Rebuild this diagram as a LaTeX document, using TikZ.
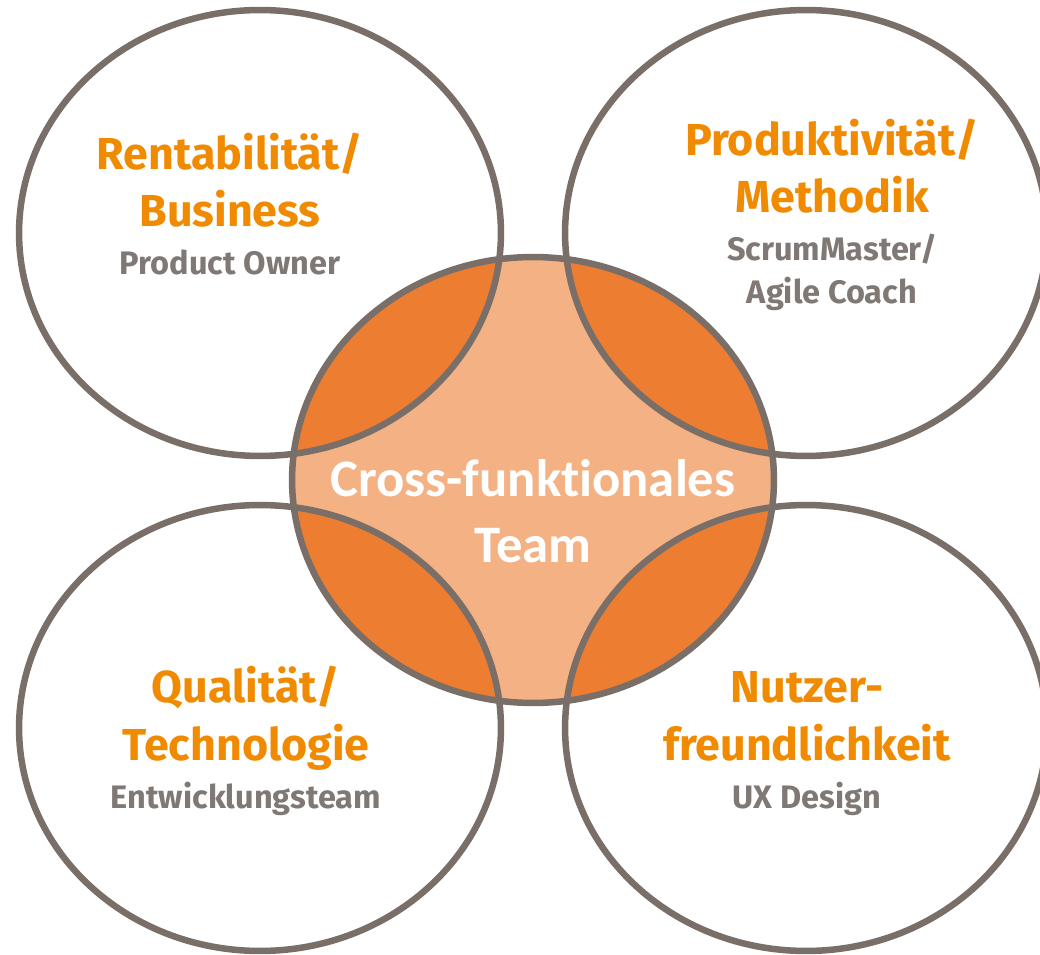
\documentclass[tikz,border=0pt]{standalone}
\usepackage{fontspec}
\newfontfamily\headfont{Fira Sans}
\newfontfamily\teamfont{Carlito}[Ligatures=NoCommon]
\usetikzlibrary{positioning}
\definecolor{ringgrey}{RGB}{122,111,104}
\definecolor{headorange}{RGB}{240,138,0}
\definecolor{rolegrey}{RGB}{128,120,116}
\definecolor{teamlight}{RGB}{244,177,131}
\definecolor{teamdark}{RGB}{237,125,49}
\newcommand{\ringshape}{ellipse [x radius=4.82cm, y radius=4.46cm]}

\begin{document}
\begin{tikzpicture}[
    x=0.02cm, y=-0.02cm,
    ring/.style={draw=ringgrey, line width=3.7pt},
    heading/.style={text=headorange, font=\headfont\bfseries\fontsize{25.5}{33}\selectfont, align=center, inner sep=0pt, anchor=base},
    role/.style={text=rolegrey, font=\headfont\bfseries\fontsize{18.5}{24.5}\selectfont, align=center, inner sep=0pt, anchor=base},
    team/.style={text=white, font=\teamfont\bfseries\fontsize{30}{37}\selectfont, align=center, inner sep=0pt, anchor=base}
]
\useasboundingbox (0,0) rectangle (1040,955);
% Centres of the circles
\coordinate (business) at (260,233);
\coordinate (method) at (806,233);
\coordinate (tech) at (260,728);
\coordinate (ux) at (806,728);
\coordinate (team) at (533,480);
% Team circle and its overlaps
\fill[teamlight] (team) \ringshape;
\begin{scope}
\clip (team) \ringshape;
\foreach \c in {business, method, tech, ux}
    \fill[teamdark] (\c) \ringshape;
\end{scope}
% Outlines
\foreach \c in {business, method, tech, ux, team}
    \draw[ring] (\c) \ringshape;
% Labels
\node[heading] (rentab) at (230,227) {Rentabilität/\\Business};
\node[role] (owner) at (230,275) {Product Owner};
\node[heading] (produkt) at (832,213) {Produktivität/\\Methodik};
\node[role] (scrum) at (832,304) {ScrumMaster/\\Agile Coach};
\node[heading] (quali) at (246,760) {Qualität/\\Technologie};
\node[role] (dev) at (246,808) {Entwicklungsteam};
\node[heading] (nutzer) at (807,760) {Nutzer-\\freundlichkeit};
\node[role] (design) at (807,808) {UX Design};
\node[team] (crossteam) at (533,562) {Cross-funkt\kern0pt ionales\\Team};
\end{tikzpicture}
\end{document}
